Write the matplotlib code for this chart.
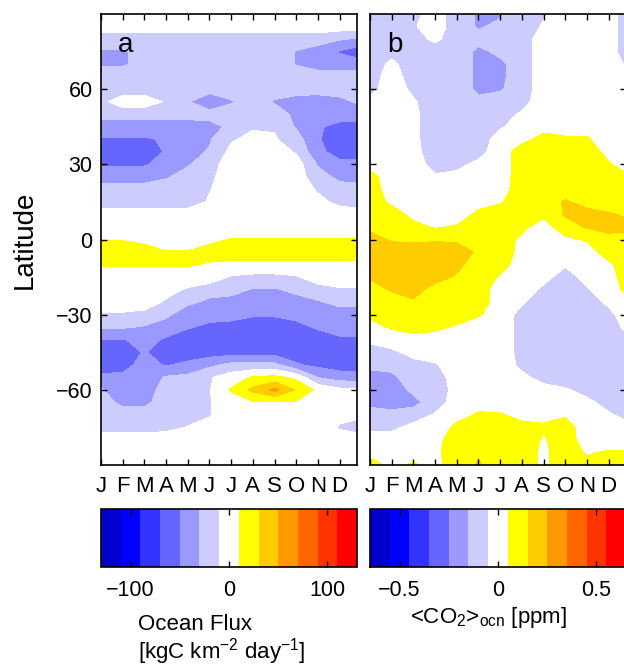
import numpy as np
import matplotlib
matplotlib.use("Agg")
import matplotlib.pyplot as plt

plt.rcParams["font.family"] = ["Liberation Sans", "DejaVu Sans"]
plt.rcParams["mathtext.fontset"] = "custom"
plt.rcParams["mathtext.rm"] = "Liberation Sans"
plt.rcParams["mathtext.it"] = "Liberation Sans:italic"

# month position of each sampled column (last one = right edge, late December)
month_pos = [1, 2, 3, 4, 5, 6, 7, 8, 9, 10, 11, 12, 12.8]
month_labels = ["J", "F", "M", "A", "M", "J", "J", "A", "S", "O", "N", "D"]
lats = list(range(90, -91, -5))

# a: ocean flux [kgC km-2 day-1], one row per latitude (90N -> 90S)
ocean_flux = [
    [0, 0, 0, 0, 0, 0, 0, 0, 0, 0, 0, 0, 0],
    [0, 0, 0, 0, 0, 0, 0, 0, 0, 0, 0, 0, 0],
    [-20, -20, -20, -20, -20, -20, -20, -20, -20, -20, -20, -28, -32],
    [-32, -32, -25, -20, -20, -20, -20, -20, -20, -31, -40, -52, -60],
    [-32, -32, -25, -20, -20, -20, -20, -20, -20, -31, -40, -40, -40],
    [-20, -20, -20, -20, -20, -20, -20, -20, -20, -20, -20, -20, -20],
    [-20, -20, -20, -20, -20, -22, -20, -20, -20, -20, -22, -22, -20],
    [-15, 0, 0, -12, -28, -45, -32, -20, -32, -40, -40, -35, -28],
    [-22, -22, -22, -22, -22, -22, -20, -20, -20, -35, -42, -42, -42],
    [-40, -40, -40, -40, -40, -38, -25, -12, -12, -32, -48, -55, -55],
    [-52, -52, -52, -48, -42, -32, -12, -5, -8, -22, -48, -62, -62],
    [-62, -62, -62, -48, -38, -28, -5, 0, 0, -12, -45, -58, -58],
    [-52, -52, -52, -42, -32, -18, 0, 0, 0, 0, -32, -45, -45],
    [-40, -40, -38, -32, -22, -14, 0, 0, 0, 0, -22, -35, -38],
    [-22, -22, -22, -20, -20, -11, 0, 0, 0, 0, -12, -22, -22],
    [-20, -20, -20, -20, -20, -8, 0, 0, 0, 0, -5, -15, -20],
    [0, 0, 0, 0, 0, 0, 0, 0, 0, 0, 0, 0, 0],
    [0, 0, 0, 0, 0, 0, 0, 0, 0, 0, 0, 0, 0],
    [9, 9, 5, 0, 0, 5, 11, 11, 11, 11, 11, 11, 11],
    [20, 20, 18, 11, 11, 18, 20, 20, 20, 20, 20, 20, 20],
    [12, 12, 12, 12, 12, 8, 5, 5, 5, 5, 5, 5, 5],
    [0, 0, 0, 0, 0, 0, -12, -15, -15, -12, 0, 0, 0],
    [0, 0, 0, -5, -12, -20, -22, -32, -32, -25, -18, -12, -12],
    [-2, -2, -3, -12, -25, -35, -38, -45, -45, -38, -32, -25, -25],
    [-12, -12, -14, -25, -45, -42, -45, -48, -48, -45, -42, -38, -38],
    [-28, -28, -32, -42, -48, -55, -55, -60, -60, -55, -48, -45, -45],
    [-51, -51, -45, -52, -62, -62, -62, -62, -62, -62, -58, -52, -52],
    [-62, -62, -48, -62, -62, -60, -58, -58, -58, -60, -62, -62, -62],
    [-62, -58, -42, -52, -45, -35, -25, -25, -25, -48, -55, -60, -60],
    [-45, -45, -42, -28, -25, -12, 0, 12, 15, 5, -31, -40, -40],
    [-28, -42, -42, -20, -20, -11, 12, 35, 55, 28, 5, -5, -8],
    [-22, -35, -35, -20, -20, -11, 0, 8, 8, 8, 0, 0, 0],
    [-20, -20, -20, -20, -18, -11, 0, 0, 0, 0, 0, -5, -5],
    [-18, -18, -18, -15, -9, -5, 0, 0, 0, 0, 0, -12, -18],
    [0, 0, 0, 0, 0, 0, 0, 0, 0, 0, 0, 0, 0],
    [0, 0, 0, 0, 0, 0, 0, 0, 0, 0, 0, 0, 0],
    [0, 0, 0, 0, 0, 0, 0, 0, 0, 0, 0, 0, 0],
]

# b: <CO2>ocn in hundredths of a ppm, one row per latitude (90N -> 90S)
co2_ocn_cppm = [
    [-10, -10, -8, 0, -10, -16, -16, -10, -6, 0, 0, 0, -10],
    [-10, -10, -6, 0, -10, -16, -13, -10, -4, 0, 0, 0, -10],
    [-10, -10, -9, -3, -10, -12, -10, -10, 0, 0, 0, 0, -10],
    [-10, -8, -10, -10, -10, -17, -13, -10, 0, 0, 0, 0, -10],
    [-10, -3, -10, -10, -10, -17, -17, -10, 0, 0, 0, 0, -6],
    [-10, 0, -10, -10, -10, -17, -17, -10, 0, 0, 0, 0, 0],
    [-8, 0, -7, -10, -10, -17, -16, -10, 0, 0, 0, 0, 0],
    [-2, 0, -4, -10, -10, -13, -10, -8, 0, 0, 0, 0, 0],
    [0, 0, -3, -10, -10, -10, -8, -4, 0, 0, 0, 0, 0],
    [0, 0, -3, -10, -10, -10, -6, -1, 2, 2, 2, 0, 0],
    [0, 0, -3, -10, -10, -10, -1, 2, 8, 6, 6, 0, 0],
    [0, 0, -2, -10, -10, -8, 0, 10, 10, 10, 10, 2, 0],
    [2, 0, -1, -8, -7, -3, 0, 10, 10, 10, 10, 6, 1],
    [8, 0, 0, -4, -3, 0, 0, 10, 10, 10, 10, 10, 7],
    [10, 0, 0, 0, 0, 0, 1, 10, 10, 11, 10, 10, 10],
    [10, 3, 0, 0, 0, 2, 4, 10, 10, 16, 12, 10, 10],
    [10, 10, 2, 0, 0, 7, 10, 10, 7, 16, 18, 16, 14],
    [13, 11, 8, 4, 6, 10, 10, 7, 1, 10, 16, 18, 17],
    [18, 14, 13, 14, 14, 14, 10, 3, 0, 3, 6, 12, 12],
    [20, 20, 20, 20, 18, 14, 10, 2, 0, 0, 0, 10, 10],
    [20, 20, 20, 20, 17, 11, 9, 0, 0, -4, 0, 3, 10],
    [16, 20, 20, 18, 14, 10, 4, 0, -2, -9, -2, 0, 10],
    [11, 16, 18, 12, 10, 10, 0, 0, -7, -10, -6, 0, 7],
    [10, 10, 14, 10, 10, 10, 0, -4, -10, -10, -10, -3, 2],
    [7, 9, 10, 10, 9, 6, 0, -8, -10, -10, -10, -8, 0],
    [2, 6, 8, 7, 4, 0, 0, -8, -10, -10, -10, -10, -3],
    [-3, 0, 2, 1, 0, 0, 0, -8, -10, -10, -10, -10, -7],
    [-9, -7, -2, 0, 0, 0, 0, -8, -10, -10, -10, -10, -10],
    [-13, -12, -8, -6, 0, 0, 0, -7, -10, -10, -10, -10, -10],
    [-18, -17, -10, -9, -1, 0, 0, -3, -8, -10, -10, -10, -10],
    [-20, -20, -13, -10, -2, 0, 0, 0, -2, -4, -8, -10, -10],
    [-17, -18, -18, -10, 0, 2, 0, 0, 0, 0, -3, -8, -10],
    [-12, -13, -10, -4, 2, 6, 6, 2, 3, 4, 0, -4, -7],
    [-7, -7, -2, 0, 7, 10, 10, 8, 6, 9, 0, 0, -3],
    [0, -1, 0, 2, 10, 10, 10, 10, 4, 10, 0, 0, 0],
    [3, 0, 2, 3, 10, 14, 10, 10, 3, 10, 4, 6, 6],
    [8, 3, 6, 2, 10, 16, 10, 10, 3, 10, 8, 10, 16],
]

flux_levels = np.arange(-130, 131, 20)
co2_levels = np.linspace(-0.65, 0.65, 14)
colors = ["#0000cc", "#0000ff", "#3333ff", "#6666ff", "#9999ff", "#ccccff", "#ffffff",
          "#ffff00", "#ffcc00", "#ff9900", "#ff6600", "#ff3300", "#ff0000"]

W, H = 624, 667
fig = plt.figure(figsize=(W / 100, H / 100), dpi=100)

def box(x0, y0, x1, y1):
    return [x0 / W, 1 - y1 / H, (x1 - x0) / W, (y1 - y0) / H]

ax_a = fig.add_axes(box(101, 14, 357, 465))
ax_b = fig.add_axes(box(370, 14, 626, 465))
cax_a = fig.add_axes(box(101, 509, 357, 567))
cax_b = fig.add_axes(box(370, 509, 626, 567))

cs_a = ax_a.contourf(month_pos, lats, np.array(ocean_flux), levels=flux_levels, colors=colors)
cs_b = ax_b.contourf(month_pos, lats, np.array(co2_ocn_cppm) / 100.0, levels=co2_levels, colors=colors)

for ax, letter in [(ax_a, "a"), (ax_b, "b")]:
    ax.set_xlim(1, 12.8)
    ax.set_ylim(-90, 90)
    ax.set_xticks(range(1, 13))
    ax.set_xticklabels(month_labels)
    ax.set_yticks([-60, -30, 0, 30, 60])
    ax.tick_params(direction="in", top=True, right=True, length=4, width=1,
                   labelsize=15.5)
    ax.tick_params(axis="x", pad=8, labelsize=16)
    ax.tick_params(axis="y", pad=6)
    for s in ax.spines.values():
        s.set_linewidth(1.2)
    ax.text(0.066, 0.916, letter, transform=ax.transAxes, fontsize=20,
            ha="left", va="baseline")

ax_b.set_yticklabels([])

for cax, cs, ticks, labels in [(cax_a, cs_a, [-100, 0, 100], ["\u2212100", "0", "100"]),
                               (cax_b, cs_b, [-0.5, 0, 0.5], ["\u22120.5", "0", "0.5"])]:
    cb = fig.colorbar(cs, cax=cax, orientation="horizontal")
    cb.set_ticks(ticks)
    cb.set_ticklabels(labels)
    cax.tick_params(axis="x", direction="in", top=True, bottom=True, length=4,
                    width=1, labelsize=15.5, pad=9)
    cb.outline.set_linewidth(1.2)

fig.text(25 / W, 1 - 240 / H, "Latitude", rotation=90, ha="center", va="center", fontsize=20)
fig.text(138 / W, 1 - 625 / H, "Ocean Flux", ha="left", va="center", fontsize=16)
fig.text(138 / W, 1 - 652 / H, "[kgC km$^{-2}$ day$^{-1}$]", ha="left", va="center", fontsize=16)
fig.text(410 / W, 1 - 617 / H, "<CO$_2$>$_{\\mathrm{ocn}}$ [ppm]", ha="left", va="center", fontsize=16)

fig.savefig("out.png", dpi=100)
